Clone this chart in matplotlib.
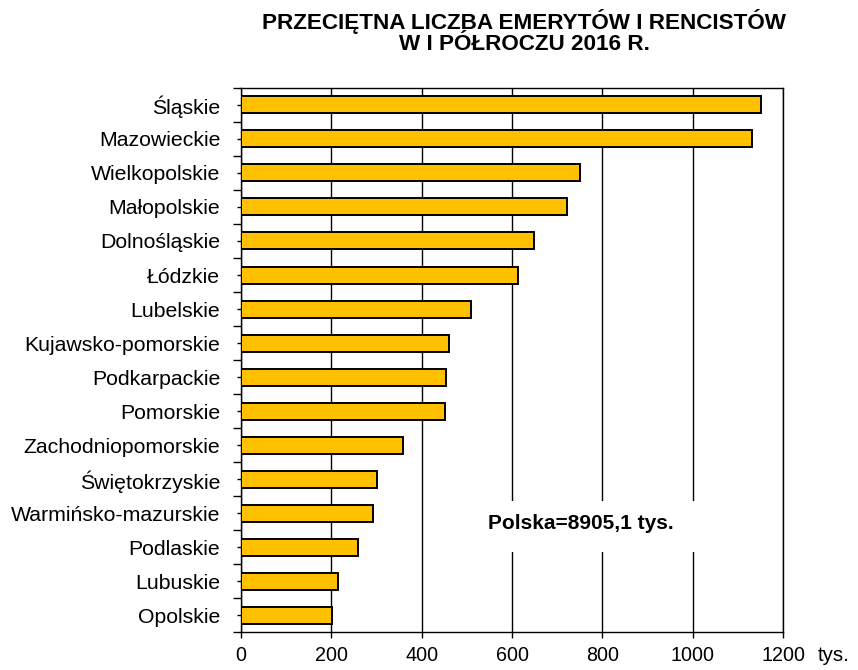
import matplotlib
matplotlib.use("Agg")
import matplotlib.pyplot as plt
from matplotlib.patches import Rectangle
import numpy as np

plt.rcParams['font.family'] = ['Liberation Sans', 'DejaVu Sans']

regions = ["Śląskie", "Mazowieckie", "Wielkopolskie", "Małopolskie", "Dolnośląskie",
           "Łódzkie", "Lubelskie", "Kujawsko-pomorskie", "Podkarpackie", "Pomorskie",
           "Zachodniopomorskie", "Świętokrzyskie", "Warmińsko-mazurskie", "Podlaskie",
           "Lubuskie", "Opolskie"]
values = [1152, 1132, 750, 721, 648, 613, 510, 461, 453, 452, 358, 302, 292, 259, 215, 202]
xticks = [0, 200, 400, 600, 800, 1000, 1200]
title = "PRZECIĘTNA LICZBA EMERYTÓW I RENCISTÓW\nW I PÓŁROCZU 2016 R."
note = "Polska=8905,1 tys."

fig = plt.figure(figsize=(8.58, 6.70), dpi=100)
ax = fig.add_axes([0.281, 0.056, 0.6316, 0.813])

y = np.arange(len(regions))
ax.barh(y, values, height=0.5, color="#FFC000", edgecolor="black", linewidth=1.4, zorder=3)

ax.set_xlim(0, 1200)
ax.set_ylim(len(regions) - 0.5, -0.5)
ax.set_xticks(xticks)
ax.set_xticklabels([str(t) for t in xticks], fontsize=14.2)
ax.set_yticks(y)
ax.set_yticklabels(regions, fontsize=15.3)
ax.set_yticks(np.arange(-0.5, len(regions)), minor=True)
ax.tick_params(axis='y', which='major', length=3, width=1, direction='out', pad=12)
ax.tick_params(axis='y', which='minor', length=6, width=1, direction='out')
ax.tick_params(axis='x', which='major', length=4, width=1, direction='out', pad=5.5)

ax.grid(axis='x', color='black', linewidth=1.0, zorder=1)
ax.set_axisbelow(True)
for s in ax.spines.values():
    s.set_color('black')
    s.set_linewidth(1.0)

ax.add_patch(Rectangle((0.424, 0.148), 0.43, 0.094, transform=ax.transAxes,
                       facecolor='white', edgecolor='none', zorder=2))
ax.text(0.626, 0.2, note, transform=ax.transAxes, ha='center', va='center',
        fontsize=15, fontweight='bold', zorder=4)

fig.text(0.611, 0.987, title, ha='center', va='top', fontsize=16.2,
         fontweight='bold', linespacing=1.0)
ax.annotate("tys.", xy=(1, 0), xycoords='axes fraction', xytext=(25, -9.5),
            textcoords='offset points', ha='left', va='top', fontsize=14.8,
            annotation_clip=False)

fig.savefig("out.png", dpi=100)
